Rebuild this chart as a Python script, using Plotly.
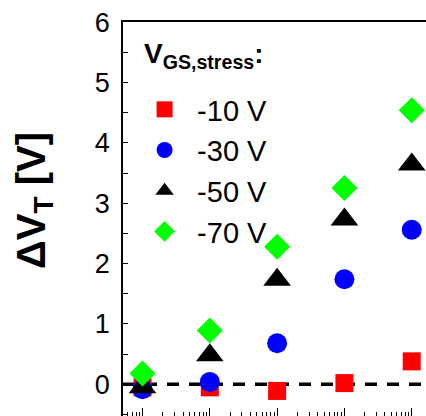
import plotly.graph_objects as go

# ---- data ----
stress_time = [1e1, 1e2, 1e3, 1e4, 1e5]          # x positions (log axis, decades)
series_labels = ["-10 V", "-30 V", "-50 V", "-70 V"]
dvt_m10 = [-0.05, -0.05, -0.11, 0.02, 0.38]
dvt_m30 = [-0.08, 0.04, 0.68, 1.74, 2.56]
dvt_m50 = [-0.05, 0.48, 1.73, 2.73, 3.64]
dvt_m70 = [0.18, 0.89, 2.28, 3.25, 4.54]
y_tick_vals = [0, 1, 2, 3, 4, 5, 6]
y_tick_text = ["0", "1", "2", "3", "4", "5", "6"]
legend_title = "<b>V<sub>GS,stress</sub>:</b>"
y_title = "<b>ΔV<sub>T</sub> [V]</b>"

series_values = [dvt_m10, dvt_m30, dvt_m50, dvt_m70]
series_colors = ["#ff0000", "#0000ff", "#000000", "#00ff00"]
series_symbols = ["square", "circle", "triangle-up", "diamond"]
series_sizes = [18, 20, 24, 20]

FONT = "Arial, Liberation Sans, sans-serif"

fig = go.Figure()
for name, vals, col, sym, sz in zip(series_labels, series_values,
                                    series_colors, series_symbols, series_sizes):
    fig.add_trace(go.Scatter(
        x=stress_time, y=vals, mode="markers", name=name,
        marker=dict(color=col, symbol=sym, size=sz, line=dict(width=0)),
        cliponaxis=False,
    ))

fig.add_shape(type="line", xref="paper", x0=0, x1=1, yref="y", y0=0, y1=0,
              line=dict(color="black", width=3.5, dash="12px,10px"),
              layer="below")

fig.add_annotation(
    text=y_title, xref="paper", yref="paper",
    x=-0.2937, y=0.5457, xanchor="center", yanchor="middle",
    textangle=-90, showarrow=False,
    font=dict(family=FONT, size=40, color="black"),
)

fig.add_annotation(
    text=legend_title, xref="paper", yref="paper",
    x=0.0627, y=0.914, xanchor="left", yanchor="middle",
    showarrow=False,
    font=dict(family=FONT, size=28, color="black"),
)

fig.update_layout(
    width=426, height=416,
    margin=dict(l=123, r=0, t=22, b=0),
    paper_bgcolor="white", plot_bgcolor="white",
    font=dict(family=FONT, color="black"),
    showlegend=True,
    legend=dict(
        x=0.03, y=0.8427, xanchor="left", yanchor="top",
        bgcolor="rgba(0,0,0,0)",
        font=dict(family=FONT, size=29, color="black"),
        itemsizing="trace",
        itemwidth=55,
        tracegroupgap=0,
    ),
    xaxis=dict(
        type="log", range=[0.710, 5.212],
        showgrid=False, zeroline=False,
        showline=True, linecolor="black", linewidth=1.5, mirror=True,
        ticks="inside", ticklen=8, tickwidth=1.2, tickcolor="black",
        dtick=1, showticklabels=False,
        minor=dict(ticks="inside", ticklen=4, tickwidth=1.2,
                   tickcolor="black", dtick="D1", showgrid=False),
    ),
    yaxis=dict(
        range=[-0.525, 6.001],
        showgrid=False, zeroline=False,
        showline=True, linecolor="black", linewidth=1.5, mirror=False,
        ticks="inside", ticklen=5, tickwidth=1.2, tickcolor="black",
        tickvals=y_tick_vals, ticktext=y_tick_text,
        tickfont=dict(family=FONT, size=27, color="black"),
        ticklabelstandoff=6,
        minor=dict(ticks="inside", ticklen=5, tickwidth=1.2,
                   tickcolor="black", dtick=0.5, showgrid=False),
    ),
)

fig.write_html("out.html")
